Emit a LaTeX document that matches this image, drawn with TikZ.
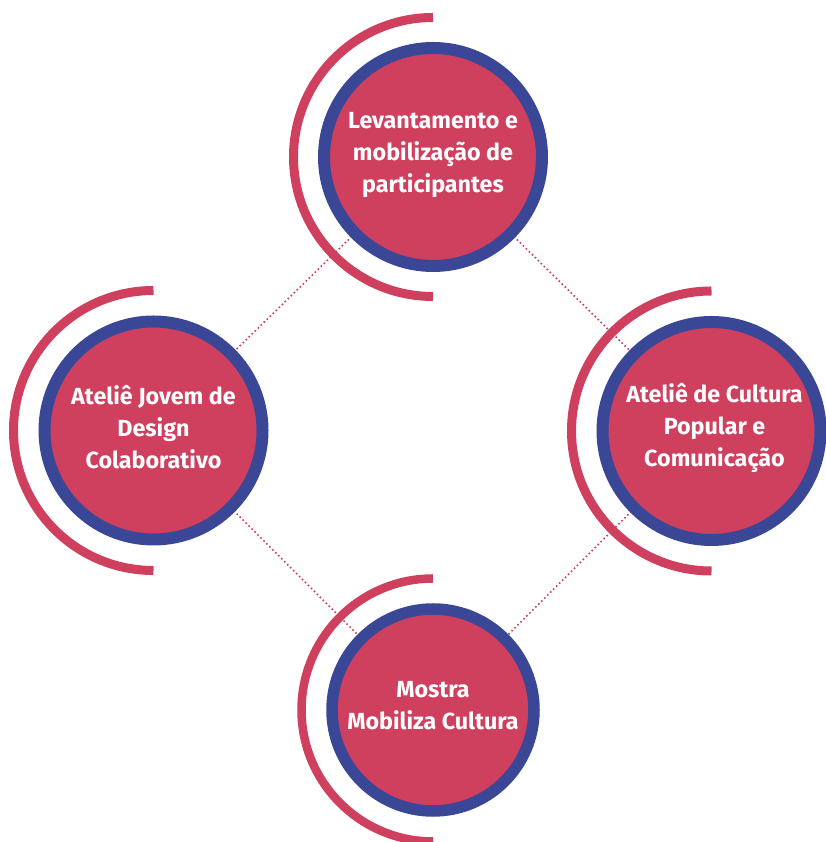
\documentclass[tikz,border=0pt]{standalone}
\usepackage{fontspec}
\setmainfont{Fira Sans}
\usetikzlibrary{calc}
\definecolor{rosa}{RGB}{207,63,94}
\definecolor{azul}{RGB}{58,71,150}
\begin{document}
\begin{tikzpicture}[x=1pt,y=1pt,
  bubble/.style={circle, fill=rosa, draw=azul, line width=12pt, minimum size=218pt, inner sep=0pt, outer sep=0pt},
  smallbubble/.style={bubble, line width=11.5pt, minimum size=202pt},
  halo/.style={draw=rosa, line width=9pt},
  dotline/.style={draw=rosa, line width=1.6pt, dash pattern=on 1.6pt off 2.6pt},
  lbl/.style={text=white, align=center, font=\bfseries\fontsize{23.3}{32}\selectfont, inner sep=0pt}]
\useasboundingbox (0,0) rectangle (825,842);
% centres
\coordinate (cT) at (433,685);
\coordinate (cL) at (153.5,411.5);
\coordinate (cR) at (711.5,411);
\coordinate (cB) at (433,132);
% connectors
\draw[dotline] (cT) -- (cL);
\draw[dotline] (cT) -- (cR);
\draw[dotline] (cL) -- (cB);
\draw[dotline] (cR) -- (cB);
% halos
\draw[halo] ($(cT)+(0,139.5)$) arc[start angle=90, end angle=270, radius=139.5];
\draw[halo] ($(cL)+(0,140)$) arc[start angle=90, end angle=270, radius=140];
\draw[halo] ($(cR)+(0,140)$) arc[start angle=90, end angle=270, radius=140];
\draw[halo, line width=8.5pt] ($(cB)+(0,131.5)$) arc[start angle=90, end angle=270, radius=131.5];
% circles
\node[bubble] (T) at (cT) {};
\node[bubble] (L) at (cL) {};
\node[bubble] (R) at (cR) {};
\node[smallbubble] (B) at (cB) {};
% labels
\node[lbl] (Tt) at ($(cT)+(0,2)$) {Levantamento e\\mobilização de\\participantes};
\node[lbl] (Lt) at ($(cL)+(0,3)$) {Ateliê Jovem de\\Design\\Colaborativo};
\node[lbl] (Rt) at ($(cR)+(3,3)$) {Ateliê de Cultura\\Popular e\\Comunicação};
\node[lbl] (Bt) at ($(cB)+(0,4)$) {Mostra\\Mobiliza Cultura};
\end{tikzpicture}
\end{document}
